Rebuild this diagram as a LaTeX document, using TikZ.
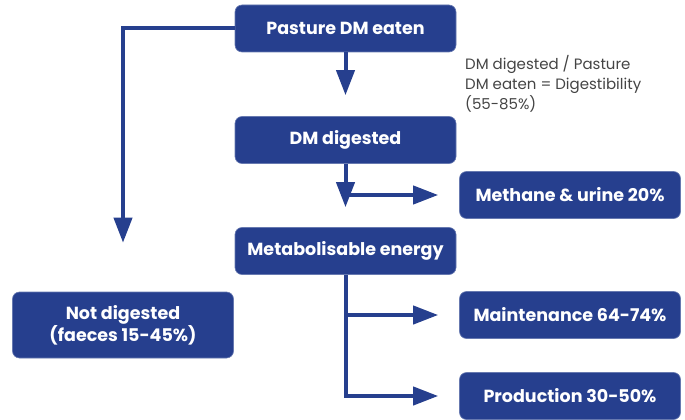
\documentclass[tikz,border=0pt]{standalone}
\usepackage{fontspec}
\setmainfont{Poppins}
\usetikzlibrary{arrows.meta}
\definecolor{flowblue}{HTML}{263F8E}
\definecolor{notegray}{HTML}{444444}
\tikzstyle{box}=[rectangle, rounded corners=7pt, fill=flowblue, draw=flowblue!70, line width=0.6pt, text=white, font=\bfseries\fontsize{17.5}{22}\selectfont, align=center, minimum width=221pt, minimum height=47pt, inner sep=0pt]
\tikzstyle{flow}=[draw=flowblue, line width=4pt, -{Triangle[length=25pt, width=18pt]}]
\newcommand{\boxnode}{\node[box]}
\begin{document}
\begin{tikzpicture}[x=1pt, y=-1pt]
            \useasboundingbox (0,0) rectangle (685,420);
            \boxnode (eaten) at (345.5,28.5) {Pasture DM eaten};
            \boxnode (digested) at (345.5,140) {DM digested};
            \boxnode (methane) at (570,195) {Methane \& urine 20\%};
            \boxnode (energy) at (345.5,251) {Metabolisable energy};
            \boxnode[minimum height=66pt] (notdig) at (123,325) {Not digested\\(faeces 15-45\%)};
            \boxnode (maint) at (570,315) {Maintenance 64-74\%};
            \boxnode (prod) at (570,396) {Production 30-50\%};
            \node[anchor=north west, align=left, text=notegray, font=\fontsize{15}{20}\selectfont, inner sep=0pt] (note) at (465,55) {DM digested / Pasture\\DM eaten = Digestibility\\(55-85\%)};
            \draw[flow, shorten >=21pt] (eaten) -- (digested);
            \draw[flow, shorten >=20pt] (digested) -- (energy);
            \draw[flow, shorten >=21pt] (digested.south |- methane.west) -- (methane.west);
            \draw[flow, shorten >=21pt] (energy.south |- maint.west) -- (maint.west);
            \draw[flow, shorten >=49pt] (eaten.west) -| (notdig.north);
            \draw[flow, shorten >=21pt] (energy.south) |- (prod.west);
        \end{tikzpicture}
\end{document}
